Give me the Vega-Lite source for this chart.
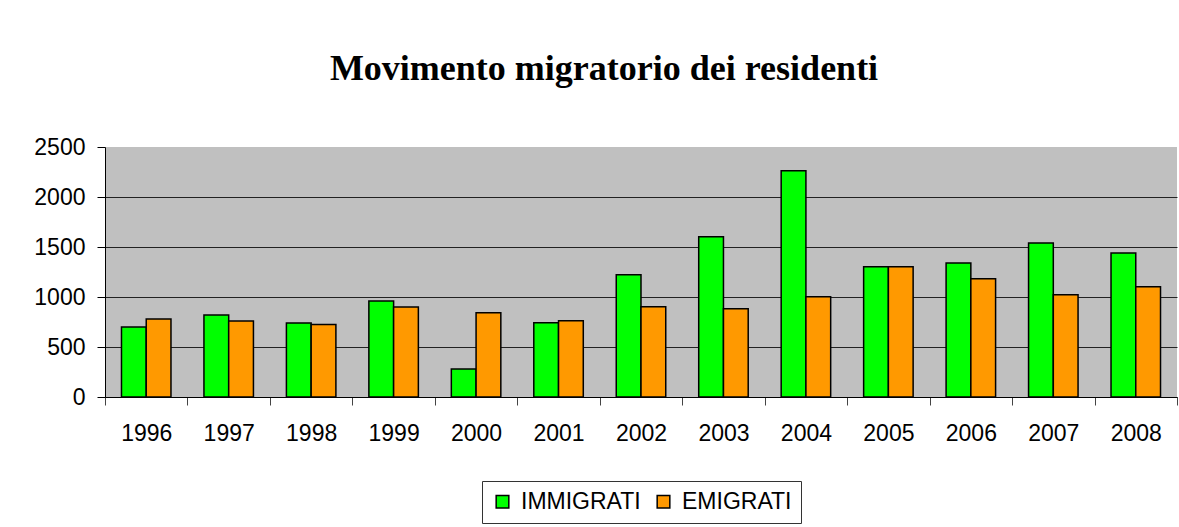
{
  "$schema": "https://vega.github.io/schema/vega-lite/v6.json",
  "width": 1072,
  "height": 250,
  "autosize": {"type": "none"},
  "padding": {"left": 105, "top": 147, "right": 2, "bottom": 130},
  "background": "white",
  "title": {
    "text": "Movimento migratorio dei residenti",
    "font": "Liberation Serif",
    "fontSize": 36,
    "fontWeight": "bold",
    "color": "black",
    "anchor": "middle",
    "dx": -37,
    "baseline": "alphabetic",
    "offset": 20
  },
  "data": {
    "values": [
      {"anno": "1996", "serie": "IMMIGRATI", "valore": 700},
      {"anno": "1996", "serie": "EMIGRATI", "valore": 780},
      {"anno": "1997", "serie": "IMMIGRATI", "valore": 820},
      {"anno": "1997", "serie": "EMIGRATI", "valore": 760},
      {"anno": "1998", "serie": "IMMIGRATI", "valore": 740},
      {"anno": "1998", "serie": "EMIGRATI", "valore": 725},
      {"anno": "1999", "serie": "IMMIGRATI", "valore": 960},
      {"anno": "1999", "serie": "EMIGRATI", "valore": 900},
      {"anno": "2000", "serie": "IMMIGRATI", "valore": 280},
      {"anno": "2000", "serie": "EMIGRATI", "valore": 842},
      {"anno": "2001", "serie": "IMMIGRATI", "valore": 742},
      {"anno": "2001", "serie": "EMIGRATI", "valore": 762},
      {"anno": "2002", "serie": "IMMIGRATI", "valore": 1222},
      {"anno": "2002", "serie": "EMIGRATI", "valore": 902},
      {"anno": "2003", "serie": "IMMIGRATI", "valore": 1602},
      {"anno": "2003", "serie": "EMIGRATI", "valore": 882},
      {"anno": "2004", "serie": "IMMIGRATI", "valore": 2262},
      {"anno": "2004", "serie": "EMIGRATI", "valore": 1002},
      {"anno": "2005", "serie": "IMMIGRATI", "valore": 1302},
      {"anno": "2005", "serie": "EMIGRATI", "valore": 1302},
      {"anno": "2006", "serie": "IMMIGRATI", "valore": 1340},
      {"anno": "2006", "serie": "EMIGRATI", "valore": 1182},
      {"anno": "2007", "serie": "IMMIGRATI", "valore": 1540},
      {"anno": "2007", "serie": "EMIGRATI", "valore": 1022},
      {"anno": "2008", "serie": "IMMIGRATI", "valore": 1440},
      {"anno": "2008", "serie": "EMIGRATI", "valore": 1102}
    ]
  },
  "mark": {"type": "bar", "stroke": "black", "strokeWidth": 1.5},
  "encoding": {
    "x": {
      "field": "anno",
      "type": "nominal",
      "scale": {"paddingInner": 0, "paddingOuter": 0},
      "axis": {
        "title": null,
        "labelAngle": 0,
        "labelFont": "Liberation Sans",
        "labelFontSize": 23,
        "labelColor": "black",
        "tickBand": "extent",
        "tickSize": 8,
        "tickColor": "#444",
        "domainColor": "black",
        "labelPadding": 17,
        "grid": false
      }
    },
    "xOffset": {
      "field": "serie",
      "type": "nominal",
      "sort": ["IMMIGRATI", "EMIGRATI"],
      "scale": {"paddingInner": 0, "paddingOuter": 0.666}
    },
    "y": {
      "field": "valore",
      "type": "quantitative",
      "scale": {"domain": [0, 2500], "nice": false},
      "axis": {
        "title": null,
        "format": "d",
        "values": [0, 500, 1000, 1500, 2000, 2500],
        "labelFont": "Liberation Sans",
        "labelFontSize": 23,
        "labelColor": "black",
        "tickSize": 8,
        "tickColor": "black",
        "domainColor": "black",
        "labelPadding": 12,
        "grid": true,
        "gridColor": "#222",
        "gridOpacity": {"condition": {"test": "datum.value == 2500", "value": 0}, "value": 1}
      }
    },
    "color": {
      "field": "serie",
      "type": "nominal",
      "sort": ["IMMIGRATI", "EMIGRATI"],
      "scale": {"domain": ["IMMIGRATI", "EMIGRATI"], "range": ["#00FF00", "#FF9900"]},
      "legend": {
        "title": null,
        "orient": "bottom",
        "direction": "horizontal",
        "symbolType": "square",
        "symbolSize": 160,
        "symbolStrokeColor": "black",
        "symbolStrokeWidth": 1.5,
        "symbolOpacity": 1,
        "labelFont": "Liberation Sans",
        "labelFontSize": 23,
        "labelColor": "black",
        "labelOffset": 7,
        "columnPadding": 11,
        "padding": 9,
        "strokeColor": "#333",
        "fillColor": "white",
        "offset": 36
      }
    }
  },
  "config": {
    "view": {"fill": "#C0C0C0", "stroke": null},
    "axis": {"domainWidth": 1, "tickWidth": 1, "gridWidth": 1},
    "legend": {"layout": {"bottom": {"anchor": "middle"}}}
  }
}
